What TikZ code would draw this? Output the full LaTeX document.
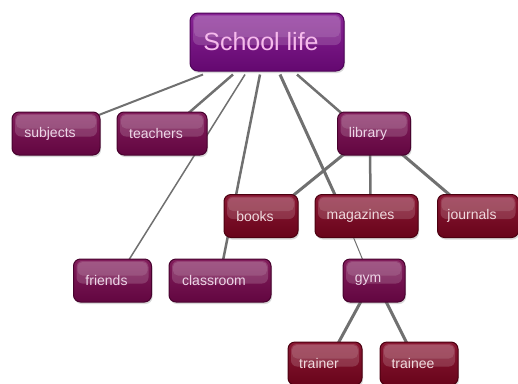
\documentclass[tikz,border=0pt]{standalone}
\usepackage{fontspec}
\setmainfont{Liberation Sans}
\usetikzlibrary{shadows,backgrounds}
\definecolor{rootA}{RGB}{135,35,148}
\definecolor{rootB}{RGB}{100,8,112}
\definecolor{rootD}{RGB}{78,4,88}
\definecolor{rootT}{RGB}{246,186,236}
\definecolor{purA}{RGB}{130,30,92}
\definecolor{purB}{RGB}{98,6,64}
\definecolor{purD}{RGB}{72,2,46}
\definecolor{purT}{RGB}{238,214,232}
\definecolor{redA}{RGB}{138,24,52}
\definecolor{redB}{RGB}{104,4,26}
\definecolor{redD}{RGB}{76,0,16}
\definecolor{redT}{RGB}{240,218,222}
\definecolor{linkc}{RGB}{112,112,112}
\tikzset{
  boxbase/.style={rounded corners=7pt, minimum height=43pt, inner sep=0pt,
    font=\fontsize{14}{16}\selectfont, line width=1pt,
    execute at begin node={\hspace*{-12pt}},
    drop shadow={shadow xshift=1pt,shadow yshift=-2pt,opacity=0.3},
    path picture={
      \fill[white,opacity=0.16,rounded corners=6pt]
        ([xshift=3pt,yshift=-2pt]path picture bounding box.north west) rectangle
        ([xshift=-3pt,yshift=-3pt]path picture bounding box.east);
      \fill[white,opacity=0.12,rounded corners=5pt]
        ([xshift=4pt,yshift=-3pt]path picture bounding box.north west) rectangle
        ([xshift=-4pt,yshift=5pt]path picture bounding box.east);}},
  rootbox/.style={boxbase, rounded corners=8pt, minimum width=154pt, minimum height=58pt,
    draw=rootD, top color=rootA, bottom color=rootB, text=rootT,
    font=\fontsize{25}{28}\selectfont},
  purbox/.style={boxbase, draw=purD, top color=purA, bottom color=purB, text=purT},
  redbox/.style={boxbase, draw=redD, top color=redA, bottom color=redB, text=redT},
  link/.style={draw=linkc, line width=2.5pt},
}
\begin{document}
\begin{tikzpicture}[x=1pt,y=-1pt]
\useasboundingbox (0,0) rectangle (518,383);
\node[rootbox] (root) at (267,42) {School life};
\node[purbox, minimum width=88pt] (subjects) at (56,133.5) {subjects};
\node[purbox, minimum width=90pt] (teachers) at (162,133.5) {teachers};
\node[purbox, minimum width=73pt] (library) at (374,133.5) {library};
\node[redbox, minimum width=74pt] (books) at (261,216) {books};
\node[redbox, minimum width=103pt] (magazines) at (366.5,216) {magazines};
\node[redbox, minimum width=81pt] (journals) at (478,216) {journals};
\node[purbox, minimum width=78pt] (friends) at (112.5,280.5) {friends};
\node[purbox, minimum width=102pt] (classroom) at (220,280.5) {classroom};
\node[purbox, minimum width=62pt] (gym) at (374,280.5) {gym};
\node[redbox, minimum width=74pt] (trainer) at (325,363.5) {trainer};
\node[redbox, minimum width=78pt] (trainee) at (419,363.5) {trainee};
\begin{pgfonlayer}{background}
\draw[link, line width=2pt] ([xshift=-64pt,yshift=-3pt]root.south) -- ([xshift=-3pt,yshift=-4pt]subjects.north east);
\draw[link] ([xshift=-34pt,yshift=-3pt]root.south) -- ([xshift=26pt,yshift=-2pt]teachers.north);
\draw[link, line width=1.5pt] ([xshift=-22pt,yshift=-3pt]root.south) -- ([xshift=16pt,yshift=-2pt]friends.north);
\draw[link] ([xshift=-7pt,yshift=-3pt]root.south) -- ([xshift=3pt,yshift=-2pt]classroom.north);
\draw[link, line width=3pt] ([xshift=13pt,yshift=-3pt]root.south) -- ([xshift=-31pt,yshift=-2pt]magazines.north);
\draw[link] ([xshift=30pt,yshift=-3pt]root.south) -- ([xshift=6pt,yshift=-3pt]library.north west);
\draw[link, line width=3pt] ([xshift=-28pt,yshift=3pt]library.south) -- ([xshift=-6pt,yshift=-2pt]books.north east);
\draw[link] ([xshift=-4pt,yshift=3pt]library.south) -- ([xshift=4pt,yshift=-2pt]magazines.north);
\draw[link, line width=3pt] ([xshift=26pt,yshift=3pt]library.south) -- ([xshift=-27pt,yshift=-2pt]journals.north);
\draw[link, line width=1pt] ([xshift=-14pt,yshift=3pt]magazines.south) -- ([xshift=-11pt,yshift=-2pt]gym.north);
\draw[link, line width=3pt] ([xshift=-12pt,yshift=3pt]gym.south) -- ([xshift=13pt,yshift=-2pt]trainer.north);
\draw[link, line width=3pt] ([xshift=11pt,yshift=3pt]gym.south) -- ([xshift=-12pt,yshift=-2pt]trainee.north);
\end{pgfonlayer}
\end{tikzpicture}
\end{document}
